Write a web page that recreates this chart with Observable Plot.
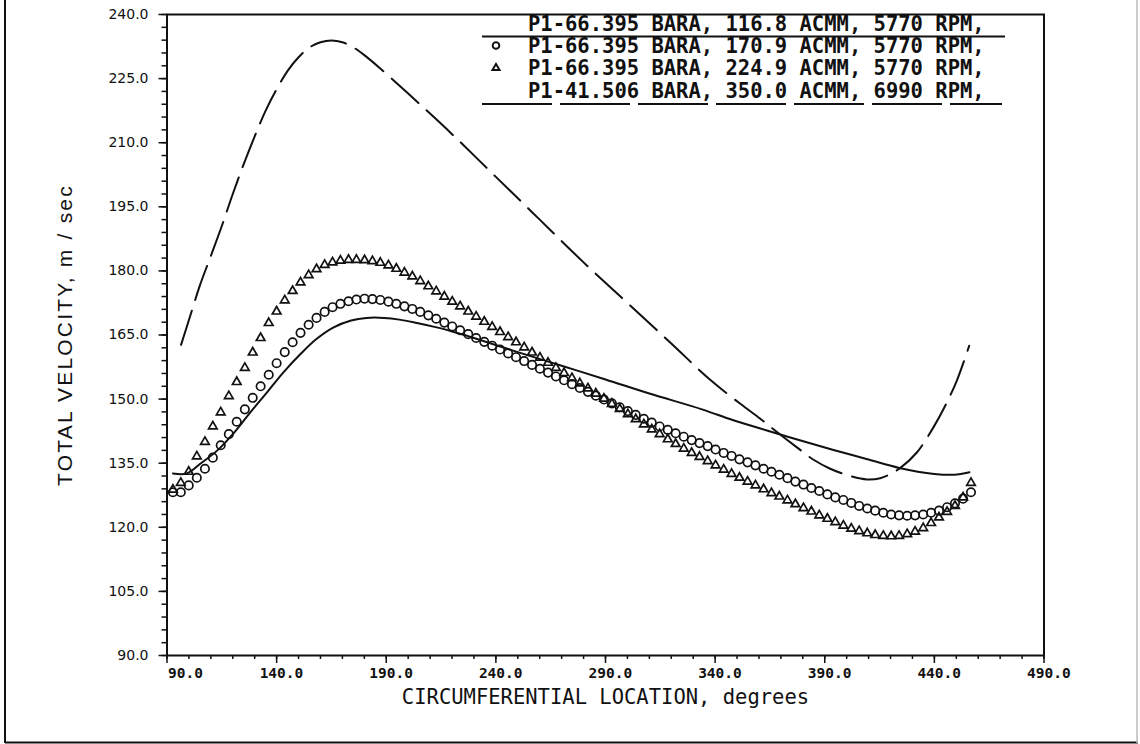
<!DOCTYPE html>
<html><head><meta charset="utf-8">
<script src="https://cdn.jsdelivr.net/npm/d3@7"></script>
<script src="https://cdn.jsdelivr.net/npm/@observablehq/plot@0.6"></script>
<style>
html,body{margin:0;padding:0;background:#fff;}
#chart{position:relative;width:1140px;height:744px;overflow:hidden;}
</style></head><body><div id="chart"></div>
<script>
// ---- data ----
const degrees = [92.7,96.3,99.9,103.6,107.3,110.9,114.5,118.2,121.8,125.5,129.1,132.7,136.4,140.0,143.7,147.3,150.9,154.6,158.2,161.9,
165.5,169.1,172.8,176.4,180.1,183.7,187.3,191.0,194.6,198.3,201.9,205.5,209.2,212.8,216.5,220.1,223.7,227.4,231.0,234.7,
238.3,241.9,245.6,249.2,252.9,256.5,260.1,263.8,267.4,271.1,274.7,278.3,282.0,285.6,289.3,292.9,296.5,300.2,303.8,307.5,
311.1,314.7,318.4,322.0,325.7,329.3,332.9,336.6,340.2,343.9,347.5,351.1,354.8,358.4,362.1,365.7,369.3,373.0,376.6,380.3,
383.9,387.5,391.2,394.8,398.5,402.1,405.7,409.4,413.0,416.7,420.3,423.9,427.6,431.2,434.9,438.5,442.1,445.8,449.4,453.1,456.7];
const circleVel = [128.2,128.2,129.8,131.6,133.7,136.3,139.2,141.8,144.7,147.6,150.3,153.0,155.7,158.4,161.0,163.3,165.5,167.4,169.0,170.4,
171.5,172.3,172.9,173.3,173.5,173.4,173.2,172.8,172.3,171.7,171.1,170.4,169.6,168.8,167.9,167.0,166.1,165.2,164.3,163.4,
162.5,161.6,160.7,159.8,158.9,158.0,157.1,156.2,155.3,154.4,153.5,152.6,151.7,150.8,149.9,149.0,148.1,147.2,146.3,145.4,
144.5,143.6,142.8,142.0,141.2,140.4,139.7,139.0,138.2,137.4,136.7,135.9,135.2,134.5,133.7,133.0,132.3,131.5,130.7,130.0,
129.2,128.5,127.7,127.0,126.4,125.7,125.0,124.4,123.9,123.4,123.0,122.8,122.7,122.8,123.0,123.4,123.9,124.7,125.6,126.7,128.2];
const triangleVel = [128.8,130.4,133.0,136.6,140.0,143.6,146.9,150.7,154.0,157.3,160.9,164.3,167.8,170.5,173.1,175.3,177.3,179.0,180.4,181.4,
182.0,182.4,182.6,182.6,182.5,182.3,181.9,181.3,180.5,179.6,178.7,177.6,176.4,175.2,174.0,172.8,171.7,170.5,169.3,168.1,
166.9,165.7,164.5,163.3,162.1,160.9,159.7,158.5,157.3,156.1,154.9,153.7,152.5,151.3,150.1,148.9,147.7,146.5,145.3,144.1,
142.9,141.8,140.6,139.5,138.4,137.4,136.5,135.5,134.5,133.5,132.5,131.6,130.7,129.8,128.9,128.0,127.2,126.3,125.4,124.5,
123.7,122.8,122.0,121.2,120.4,119.7,119.1,118.6,118.2,118.0,117.9,118.0,118.4,119.0,119.8,121.0,122.3,123.6,125.0,127.0,130.4];
const solidDeg = [92.7,99,105,113,120,128,136,143,151,158,166,174,181,189,196,204,212,219,230,250,270,290,310,334,348,364,379,394,409,424,440,449,456];
const solidVel = [132.6,132.6,134.8,138.0,141.8,146.9,151.8,156.2,160.6,164.0,166.8,168.4,169.0,169.0,168.6,167.8,166.9,166.0,164.3,161.0,157.8,154.6,151.3,147.6,145.1,142.6,140.3,138.1,136.0,133.9,132.5,132.3,132.9];
const dashDeg = [96.4,100,105,110,115,120,125,130,135,140,145,150,155,160,165,170,175,180,187,200,220,240,260,280,300,320,338,351.5,360.6,368.2,377.3,384.9,392.5,401.6,409.3,415.3,420,424.5,432,439.7,445,450.3,455.9];
const dashVel = [162.7,168.5,176.6,183.5,190.5,198,205,211.5,217.5,222.5,226.8,230,232.3,233.5,233.9,233.5,232.3,230.5,227.5,221.5,212,202,192,182,172.5,163,154.4,148.9,145.4,142.3,138.7,135.8,133.7,132.0,131.2,131.5,132.5,133.9,137.5,143.5,148.5,154.4,162.5];

const xTickValues = [90,140,190,240,290,340,390,440,490];
const xTickLabels = ["90.0","140.0","190.0","240.0","290.0","340.0","390.0","440.0","490.0"];
const yTickValues = [90,105,120,135,150,165,180,195,210,225,240];
const yTickLabels = ["90.0","105.0","120.0","135.0","150.0","165.0","180.0","195.0","210.0","225.0","240.0"];
const xTitle = "CIRCUMFERENTIAL LOCATION, degrees";
const yTitle = "TOTAL VELOCITY, m / sec";
const legendLabels = [
  "P1-66.395 BARA, 116.8 ACMM, 5770 RPM,",
  "P1-66.395 BARA, 170.9 ACMM, 5770 RPM,",
  "P1-66.395 BARA, 224.9 ACMM, 5770 RPM,",
  "P1-41.506 BARA, 350.0 ACMM, 6990 RPM,"
];

// ---- tables ----
const circles = degrees.map((d,i)=>({deg:d, v:circleVel[i]}));
const triangles = degrees.map((d,i)=>({deg:d, v:triangleVel[i]}));
const solid = solidDeg.map((d,i)=>({deg:d, v:solidVel[i]}));
const dashed = dashDeg.map((d,i)=>({deg:d, v:dashVel[i]}));
const xLab = xTickValues.map((v,i)=>({v, t:xTickLabels[i]}));
const yLab = yTickValues.map((v,i)=>({v, t:yTickLabels[i]}));

const INK = "#111";
const MONO = "DejaVu Sans Mono";
const plot = Plot.plot({
  width: 1140, height: 744,
  marginLeft: 166.5, marginRight: 96.5, marginTop: 14, marginBottom: 89,
  x: {domain: [90, 490]},
  y: {domain: [90, 240]},
  style: {background: "transparent", color: INK},
  marks: [
    Plot.axisX({ticks: d3.range(90, 491, 10), tickSize: 4, tickFormat: () => "", label: null, strokeWidth: 1.5}),
    Plot.axisX({ticks: xTickValues, tickSize: 8, tickFormat: () => "", label: null, strokeWidth: 1.5}),
    Plot.axisY({ticks: d3.range(90, 241, 3), tickSize: 5, tickFormat: () => "", label: null, strokeWidth: 1.5}),
    Plot.axisY({ticks: yTickValues, tickSize: 8, tickFormat: () => "", label: null, strokeWidth: 1.5}),
    Plot.frame({stroke: INK, strokeWidth: 2}),
    Plot.text(xLab.slice(0,1), {x: "v", text: "t", frameAnchor: "bottom", dy: 22, textAnchor: "start", dx: 1, fontFamily: MONO, fontSize: 14.5, fontWeight: 600, fill: INK}),
    Plot.text(xLab.slice(1), {x: "v", text: "t", frameAnchor: "bottom", dy: 22, textAnchor: "start", dx: -17, fontFamily: MONO, fontSize: 14.5, fontWeight: 600, fill: INK}),
    Plot.text(yLab, {y: "v", text: "t", frameAnchor: "left", dx: -18.5, textAnchor: "end", fontFamily: "DejaVu Sans", fontSize: 14, fill: INK}),
    Plot.text([xTitle], {frameAnchor: "bottom", dy: 48, textAnchor: "middle", fontFamily: MONO, fontSize: 20.5, fill: INK}),
    Plot.text([yTitle], {frameAnchor: "left", dx: -102, rotate: -90, textAnchor: "middle", fontFamily: "Liberation Sans", fontSize: 21, fill: INK}),
    Plot.line(solid, {x: "deg", y: "v", stroke: INK, strokeWidth: 2, curve: "catmull-rom"}),
    Plot.line(dashed, {x: "deg", y: "v", stroke: INK, strokeWidth: 2, curve: "catmull-rom", strokeDasharray: "36,11"}),
    Plot.dot(circles, {x: "deg", y: "v", r: 4.2, stroke: INK, strokeWidth: 1.7, fill: "none"}),
    Plot.dot(triangles, {x: "deg", y: "v", r: 3.2, symbol: "triangle", stroke: INK, strokeWidth: 1.7, fill: "none"})
  ]
});
document.getElementById("chart").appendChild(plot);

// letter spacing for the y title
d3.select(plot).selectAll("text").filter(function(){ return this.textContent === yTitle; })
  .style("letter-spacing", "2.2px");

// ---- legend (inside the frame, top right) ----
const svg = d3.select(plot);
const lg = svg.append("g").attr("fill", INK).attr("stroke", "none").attr("text-anchor", "start");
const rowY = [23.5, 45.5, 68, 90.5];
legendLabels.forEach((t, i) => {
  lg.append("text").attr("x", 528).attr("y", rowY[i]).attr("dy", "0.36em")
    .attr("text-anchor", "start").attr("font-weight", 600)
    .attr("font-family", MONO).attr("font-size", 20.5).text(t);
});
lg.append("line").attr("x1", 482).attr("x2", 1005).attr("y1", 36.5).attr("y2", 36.5)
  .attr("stroke", INK).attr("stroke-width", 2);
lg.append("circle").attr("cx", 496).attr("cy", rowY[1]).attr("r", 3.3)
  .attr("fill", "none").attr("stroke", INK).attr("stroke-width", 2);
lg.append("path").attr("d", d3.symbol(d3.symbolTriangle, 22)())
  .attr("transform", `translate(496,${rowY[2]})`)
  .attr("fill", "none").attr("stroke", INK).attr("stroke-width", 2);
lg.append("line").attr("x1", 482).attr("x2", 1002).attr("y1", 104).attr("y2", 104)
  .attr("stroke", INK).attr("stroke-width", 2).attr("stroke-dasharray", "70,8");

// ---- page border ----
svg.append("line").attr("x1", 5).attr("x2", 5).attr("y1", 0).attr("y2", 743).attr("stroke", INK).attr("stroke-width", 2);
svg.append("line").attr("x1", 5).attr("x2", 1138).attr("y1", 742.5).attr("y2", 742.5).attr("stroke", INK).attr("stroke-width", 2);
svg.append("line").attr("x1", 1137).attr("x2", 1137).attr("y1", 0).attr("y2", 743).attr("stroke", "#bbb").attr("stroke-width", 1.5);
</script></body></html>
